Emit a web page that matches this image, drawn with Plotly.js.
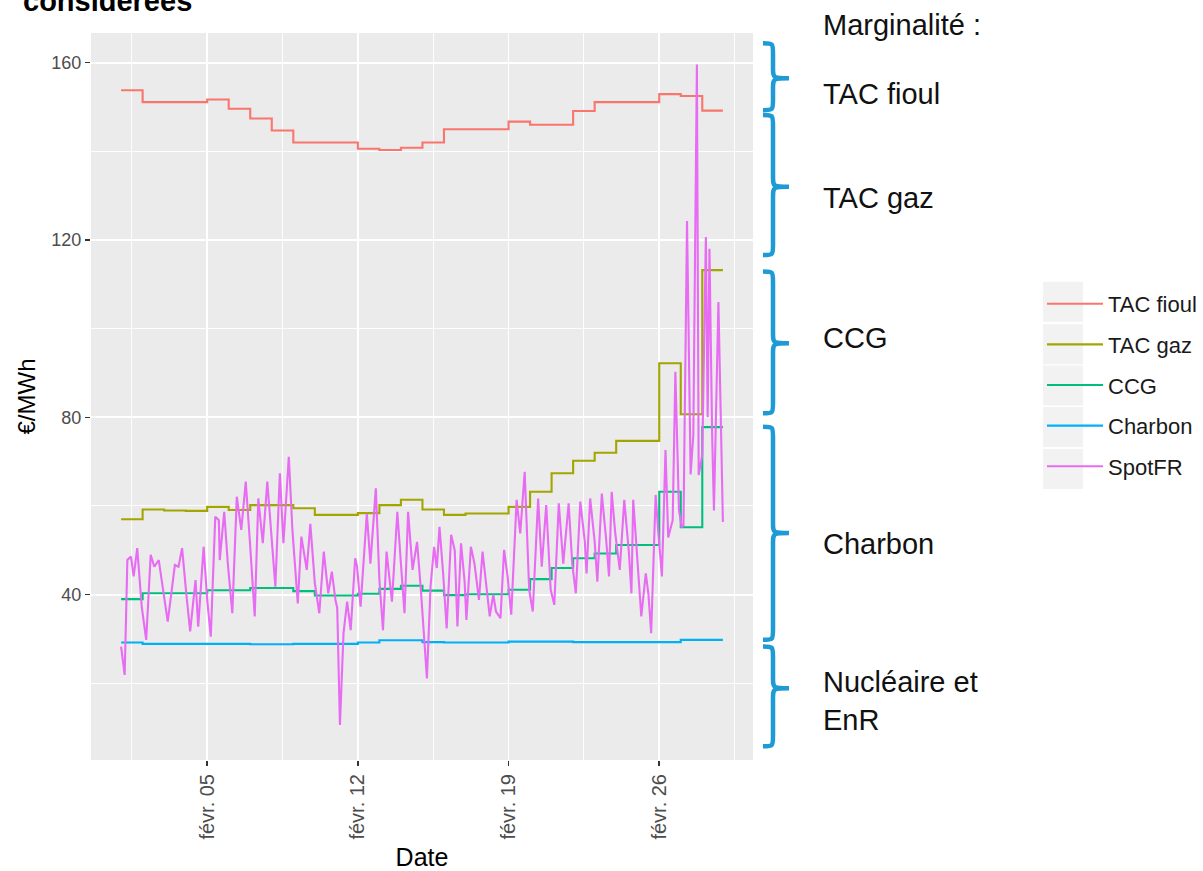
<!DOCTYPE html>
<html>
<head>
<meta charset="utf-8">
<script src="https://cdn.plot.ly/plotly-3.0.1.min.js"></script>
<style>html,body{margin:0;padding:0;background:#fff;}#chart{width:1203px;height:871px;}</style>
</head>
<body>
<div id="chart"></div>
<script>
// ---------- DATA ----------
const days = ['2018-02-01','2018-02-02','2018-02-03','2018-02-04','2018-02-05','2018-02-06','2018-02-07',
  '2018-02-08','2018-02-09','2018-02-10','2018-02-11','2018-02-12','2018-02-13','2018-02-14',
  '2018-02-15','2018-02-16','2018-02-17','2018-02-18','2018-02-19','2018-02-20','2018-02-21',
  '2018-02-22','2018-02-23','2018-02-24','2018-02-25','2018-02-26','2018-02-27','2018-02-28'];
const lastHour = '2018-02-28 23:00';

const tacFioul = [153.8,151.1,151.1,151.1,151.7,149.6,147.4,144.7,142.0,142.0,142.0,140.6,140.3,140.8,
  142.0,145.0,145.0,145.0,146.7,146.0,146.0,149.1,151.1,151.1,151.1,152.9,152.5,149.2];
const tacGaz = [57.0,59.2,59.0,58.9,59.8,59.1,60.2,60.2,59.5,58.0,58.0,58.4,60.2,61.4,
  59.2,58.0,58.3,58.3,59.8,63.2,67.4,70.2,72.0,74.7,74.7,92.2,80.7,113.2];
const ccg = [39.0,40.3,40.3,40.3,41.0,41.0,41.5,41.5,40.8,39.8,39.8,40.2,41.3,42.0,
  40.9,39.9,40.1,40.1,41.1,43.5,46.0,48.2,49.3,51.2,51.2,63.2,55.2,77.8];
const charbon = [29.2,28.9,28.9,28.9,28.9,28.9,28.8,28.8,28.9,28.9,28.9,29.2,29.7,29.7,
  29.3,29.2,29.2,29.2,29.4,29.4,29.4,29.3,29.3,29.3,29.3,29.3,29.8,29.8];

// SpotFR: hours since 2018-02-01 00:00 and prices read at the turning points
const spotHours = [0,4,7,11,14,18,23,28,33,37,42,47,52,56,60,64,68,73,77,83,86,92,96,100,105,109,110,115,119,124,
  129,134,139,144,149,153,158,163,168,172,177,181,187,191,197,201,207,211,216,221,226,231,235,239,241,244,248,252,256,261,
  263,267,274,278,284,288,292,296,302,308,312,316,320,325,330,334,341,345,349,352,355,359,363,368,372,375,379,383,385,390,
  394,399,403,407,411,415,418,423,427,431,435,441,445,450,455,459,465,469,474,479,483,488,493,499,503,507,512,517,519,523,
  528,531,536,541,544,547,551,556,561,566,569,571,576,580,585,588,591,594,596,599,603,607,610,615,618,622,625,627,631,635,
  638,642,644,648,652,654,656,659,661,666,671];
const spotValues = [28.3,21.9,47.8,48.6,44.1,50.5,37.3,29.8,49.0,46.3,47.8,41.1,33.9,40.3,46.7,46.3,50.5,39.6,31.7,43.3,32.8,50.8,38.8,30.5,57.6,56.8,47.8,58.7,47.0,35.8,
  62.1,54.6,65.5,50.8,35.1,61.7,51.6,65.5,51.6,41.8,67.4,51.6,71.1,54.6,38.0,53.1,45.6,56.0,42.6,35.8,49.7,40.3,45.2,38.8,37.0,10.6,31.3,38.4,32.0,48.2,
  46.5,37.3,58.3,47.0,64.0,43.3,32.0,49.7,38.4,58.7,47.0,35.8,58.7,45.6,51.9,41.8,21.1,41.8,50.8,46.0,55.3,45.0,32.4,53.5,50.0,32.8,51.6,43.0,34.3,50.8,
  47.0,38.8,49.7,43.0,35.1,40.0,36.2,34.7,50.1,44.0,35.5,61.4,53.8,67.7,41.1,36.2,61.7,46.3,60.2,41.1,37.7,60.6,47.0,60.6,47.0,40.3,61.0,52.0,44.8,61.7,
  52.0,42.9,62.8,52.0,44.1,63.2,53.8,45.6,61.4,50.0,40.3,61.4,48.0,35.1,44.8,40.0,31.3,53.8,62.5,54.0,44.1,72.6,52.9,56.8,90.3,59.1,55.3,55.5,124.3,67.1,
  76.0,159.6,67.0,71.6,120.7,80.0,118.0,76.0,59.0,106.0,56.4];

const seriesNames = ['TAC fioul','TAC gaz','CCG','Charbon','SpotFR'];
const seriesColors = ['#F8766D','#A3A500','#00BF7D','#00B0F6','#E76BF3'];
const tickDates = ['2018-02-05','2018-02-12','2018-02-19','2018-02-26'];
const tickLabels = ['févr. 05','févr. 12','févr. 19','févr. 26'];
const minorDates = ['2018-02-01 12:00','2018-02-08 12:00','2018-02-15 12:00','2018-02-22 12:00','2018-03-01 12:00'];

const rightLabels = ['Marginalité :','TAC fioul','TAC gaz','CCG','Charbon','Nucléaire et<br>EnR'];
// brace ranges in €/MWh (top, tip, bottom)
const braces = [[164.4,156.5,149.3],[148.2,132.0,116.6],[112.9,96.7,80.9],[77.9,53.9,29.8],[28.3,18.9,5.8]];

// ---------- BUILD ----------
function hourToDate(h){
  const d = new Date(Date.UTC(2018,1,1) + h*3600000);
  const p = n => String(n).padStart(2,'0');
  return d.getUTCFullYear()+'-'+p(d.getUTCMonth()+1)+'-'+p(d.getUTCDate())+' '+p(d.getUTCHours())+':00';
}
function stepTrace(vals, i){
  return {x: days.concat([lastHour]), y: vals.concat([vals[vals.length-1]]), type:'scatter', mode:'lines',
    line:{shape:'hv', color: seriesColors[i], width:2.1}, name: seriesNames[i], legendgroup: seriesNames[i]};
}
const traces = [stepTrace(tacFioul,0), stepTrace(tacGaz,1), stepTrace(ccg,2), stepTrace(charbon,3),
  {x: spotHours.map(hourToDate), y: spotValues, type:'scatter', mode:'lines',
   line:{color: seriesColors[4], width:2.1}, name: seriesNames[4], legendgroup: seriesNames[4]}];

// layout geometry
const W=1203, H=871, L=91, R=753, T=33, B=760;
const px2x = p => (p-L)/(R-L);
const py2y = p => (B-p)/(B-T);

const shapes = [];
// legend key backgrounds
const keyCenters = [301.7,344.3,385.5,427,469];
keyCenters.forEach(c => shapes.push({type:'rect', xref:'paper', yref:'paper', x0:px2x(1043), x1:px2x(1083),
  y0:py2y(c+20), y1:py2y(c-20), fillcolor:'#F2F2F2', line:{width:0}, layer:'below'}));
// braces
const hx = px2x(763), sx = px2x(773), tx = px2x(789), r = 2.4;
braces.forEach(b => {
  const [yT, yM, yB] = b;
  const path = `M ${hx},${yT} C ${sx},${yT} ${sx},${yT} ${sx},${yT-r} L ${sx},${yM+r} C ${sx},${yM} ${sx},${yM} ${tx},${yM} ` +
    `C ${sx},${yM} ${sx},${yM} ${sx},${yM-r} L ${sx},${yB+r} C ${sx},${yB} ${sx},${yB} ${hx},${yB}`;
  shapes.push({type:'path', xref:'paper', yref:'y', path: path, line:{color:'#1E9BD5', width:4.5}});
});

const labelY = [25, 94, 198, 337.5, 544, 700.8];
const annotations = rightLabels.map((t,i) => ({text:t, xref:'paper', yref:'paper', x:px2x(821), y:py2y(labelY[i]),
  xanchor:'left', yanchor:'middle', align:'left', showarrow:false,
  font:{family:'Liberation Sans, Arial, sans-serif', size:29, color:'#111'}}));
annotations.push({text:'<b>considérées</b>', xref:'paper', yref:'paper', x:px2x(21), y:py2y(1), xanchor:'left', yanchor:'middle',
  showarrow:false, font:{family:'Liberation Sans, Arial, sans-serif', size:29, color:'#000'}});

const layout = {
  width:W, height:H, margin:{l:L, r:W-R, t:T, b:H-B, pad:0, autoexpand:false},
  paper_bgcolor:'#fff', plot_bgcolor:'#EBEBEB',
  font:{family:'Liberation Sans, Arial, sans-serif'},
  showlegend:true,
  legend:{x:px2x(1042), y:py2y(283), xanchor:'left', yanchor:'top', bgcolor:'rgba(0,0,0,0)',
    font:{size:22, color:'#1a1a1a'}, tracegroupgap:9, itemwidth:56},
  xaxis:{type:'date', range:['2018-01-30 14:27','2018-03-02 08:33'], tickmode:'array', tickvals:tickDates, ticktext:tickLabels,
    tickangle:-90, tickfont:{size:20, color:'#4D4D4D'}, ticks:'outside', ticklen:5, tickcolor:'#333', tickwidth:1.5,
    showgrid:true, gridcolor:'#FFFFFF', gridwidth:1.8, zeroline:false, showline:false,
    minor:{tickmode:'array', tickvals:minorDates, showgrid:true, gridcolor:'#FFFFFF', gridwidth:0.9, ticks:''},
    title:{text:'Date', font:{size:25, color:'#000'}, standoff:10}},
  yaxis:{range:[2.7,166.7], tickmode:'array', tickvals:[40,80,120,160], ticktext:['40','80','120','160'],
    tickfont:{size:18, color:'#4D4D4D'}, ticks:'outside', ticklen:5, tickcolor:'#333', tickwidth:1.5,
    showgrid:true, gridcolor:'#FFFFFF', gridwidth:1.8, zeroline:false, showline:false,
    minor:{tickmode:'array', tickvals:[20,60,100,140], showgrid:true, gridcolor:'#FFFFFF', gridwidth:0.9, ticks:''},
    title:{text:'€/MWh', font:{size:24, color:'#000'}, standoff:8}},
  shapes: shapes,
  annotations: annotations
};

Plotly.newPlot('chart', traces, layout, {displayModeBar:false, staticPlot:true});
</script>
</body>
</html>
